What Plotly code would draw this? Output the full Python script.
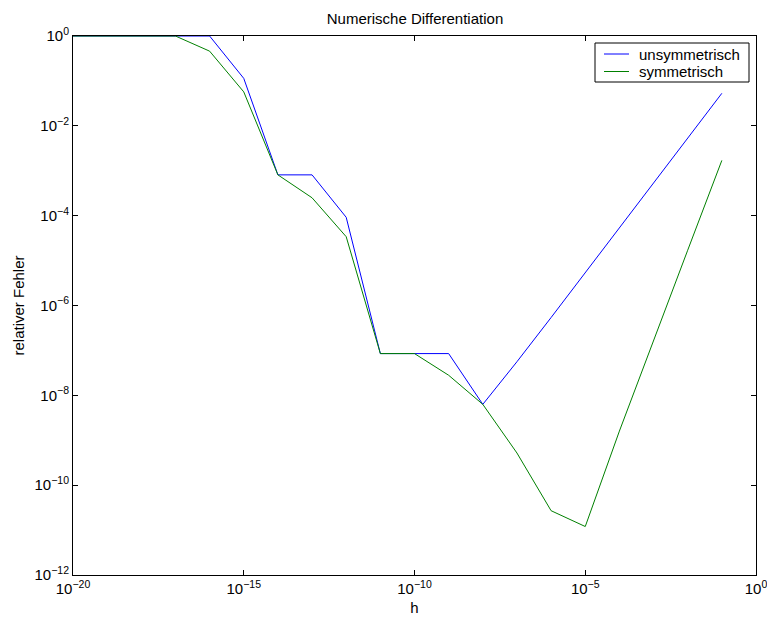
import plotly.graph_objects as go

# step sizes h and relative errors of the two difference quotients
h = [1e-20, 1e-19, 1e-18, 1e-17, 1e-16, 1e-15, 1e-14, 1e-13, 1e-12, 1e-11,
     1e-10, 1e-9, 1e-8, 1e-7, 1e-6, 1e-5, 1e-4, 1e-3, 1e-2, 1e-1]
err_unsym = [1, 1, 1, 1, 1, 1.14e-1, 8.1e-4, 8.1e-4, 9.2e-5, 8.5e-8,
             8.5e-8, 8.5e-8, 6.3e-9, 5.6e-8, 5.4e-7, 5.4e-6, 5.4e-5, 5.4e-4, 5.4e-3, 5.3e-2]
err_sym = [1, 1, 1, 1, 0.46, 5.7e-2, 8.1e-4, 2.5e-4, 3.4e-5, 8.5e-8,
           8.5e-8, 2.8e-8, 6.3e-9, 5.2e-10, 2.7e-11, 1.2e-11, 1.6e-9, 1.7e-7, 1.7e-5, 1.7e-3]

series_names = ["unsymmetrisch", "symmetrisch"]
series_colors = ["#0000ff", "#008000"]

x_ticks = [1e-20, 1e-15, 1e-10, 1e-5, 1e0]
x_ticktext = ["10<sup>\u221220</sup>", "10<sup>\u221215</sup>", "10<sup>\u221210</sup>",
              "10<sup>\u22125</sup>", "10<sup>0</sup>"]
y_ticks = [1e-12, 1e-10, 1e-8, 1e-6, 1e-4, 1e-2, 1e0]
y_ticktext = ["10<sup>\u221212</sup>", "10<sup>\u221210</sup>", "10<sup>\u22128</sup>",
              "10<sup>\u22126</sup>", "10<sup>\u22124</sup>", "10<sup>\u22122</sup>",
              "10<sup>0</sup>"]

FONT = "Liberation Sans, Arial, Helvetica, sans-serif"
FS = 15
W, H = 767, 618
ML, MR, MT, MB = 73, 11, 36, 43
PW, PH = W - ML - MR, H - MT - MB


def px_x(px):
    """pixel column -> paper x fraction"""
    return (px - ML) / PW


def px_y(py):
    """pixel row -> paper y fraction"""
    return (H - MB - py) / PH


fig = go.Figure()
for ys, name, col in zip([err_unsym, err_sym], series_names, series_colors):
    fig.add_trace(go.Scatter(x=h, y=ys, mode="lines", name=name,
                             line=dict(color=col, width=1), showlegend=False))

axis_common = dict(
    showgrid=False, zeroline=False, showline=True, linecolor="black", linewidth=1,
    mirror="ticks", ticks="inside", ticklen=5, tickcolor="black", tickwidth=1,
    tickfont=dict(family=FONT, size=FS, color="black"), automargin=False,
    ticklabeloverflow="allow",
)

# boxed legend in the upper right corner of the axes
shapes = [dict(type="rect", xref="paper", yref="paper",
               x0=px_x(595), x1=px_x(749), y0=px_y(82), y1=px_y(43),
               line=dict(color="black", width=1), fillcolor="white", layer="above")]
annotations = []
for i, (name, col) in enumerate(zip(series_names, series_colors)):
    yy = px_y(54 + i * 17.5)
    shapes.append(dict(type="line", xref="paper", yref="paper",
                       x0=px_x(604), x1=px_x(629), y0=yy, y1=yy,
                       line=dict(color=col, width=1), layer="above"))
    annotations.append(dict(text=name, xref="paper", yref="paper",
                            x=px_x(637), y=yy, xanchor="left", yanchor="middle",
                            showarrow=False, font=dict(family=FONT, size=FS, color="black")))

fig.update_layout(
    width=W, height=H,
    margin=dict(l=ML, r=MR, t=MT, b=MB),
    paper_bgcolor="white", plot_bgcolor="white",
    font=dict(family=FONT, size=FS, color="black"),
    title=dict(text="Numerische Differentiation", x=(326 + 504) / 2 / W, xanchor="center",
               y=1 - 19 / H, yanchor="middle", font=dict(family=FONT, size=FS)),
    xaxis=dict(type="log", range=[-20, 0], tickvals=x_ticks, ticktext=x_ticktext,
               title=dict(text="h", standoff=6, font=dict(family=FONT, size=FS)),
               **axis_common),
    yaxis=dict(type="log", range=[-12, 0], tickvals=y_ticks, ticktext=y_ticktext,
               title=dict(text="relativer Fehler", standoff=6, font=dict(family=FONT, size=FS)),
               **axis_common),
    shapes=shapes,
    annotations=annotations,
    showlegend=False,
)

fig.write_html("out.html")
